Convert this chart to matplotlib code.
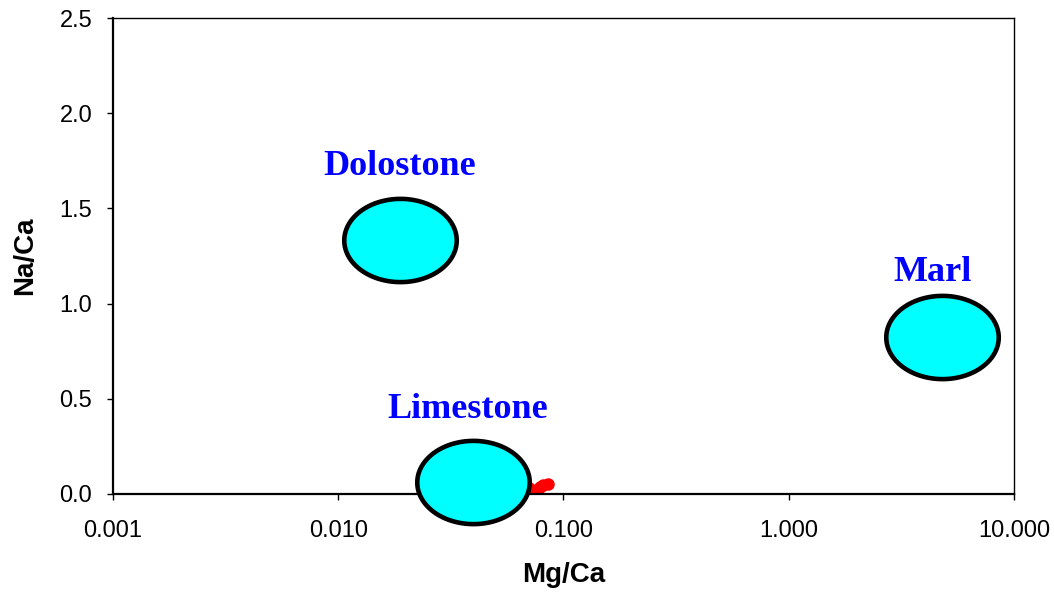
import numpy as np
import matplotlib.pyplot as plt
from matplotlib.path import Path

# rock-type fields (Mg/Ca, Na/Ca)
rock_names = ['Dolostone', 'Limestone', 'Marl']
rock_mgca = [0.0188, 0.0396, 4.79]
rock_naca = [1.334, 0.063, 0.825]
label_mgca = [0.0188, 0.0377, 4.33]
label_naca = [1.722, 0.446, 1.166]

# water samples
sample_mgca = [0.0853, 0.0786, 0.0752, 0.0700, 0.0810]
sample_naca = [0.053, 0.037, 0.020, 0.030, 0.045]

xticks = [0.001, 0.01, 0.1, 1, 10]
xticklabels = ['0.001', '0.010', '0.100', '1.000', '10.000']
yticks = [0.0, 0.5, 1.0, 1.5, 2.0, 2.5]

# ellipse marker
t = np.linspace(0, 2 * np.pi, 100)
ell = Path(np.column_stack([np.cos(t), 0.74 * np.sin(t)]), closed=True)

fig = plt.figure(figsize=(10.54, 6.03), dpi=100)
ax = fig.add_axes([0.1072, 0.1808, 0.8548, 0.7892])

ax.plot(sample_mgca, sample_naca, 'o', color='red', markersize=8, zorder=2)
ax.plot(rock_mgca, rock_naca, linestyle='none', marker=ell, markersize=81,
        markerfacecolor='cyan', markeredgecolor='black', markeredgewidth=3.3,
        clip_on=False, zorder=3)

for n, x, y in zip(rock_names, label_mgca, label_naca):
    ax.text(x, y, n, color='blue', fontsize=26, fontweight='bold',
            family='Liberation Serif', ha='center', va='center')

ax.set_xscale('log')
ax.set_xlim(0.001, 10)
ax.set_ylim(0, 2.5)
ax.set_xticks(xticks)
ax.set_xticklabels(xticklabels)
ax.minorticks_off()
ax.set_yticks(yticks)
ax.set_yticklabels([f'{v:.1f}' for v in yticks])
ax.tick_params(labelsize=17, length=4, width=1, direction='out')
for lab in ax.get_xticklabels() + ax.get_yticklabels():
    lab.set_family('Liberation Sans')
ax.tick_params(axis='x', pad=15)
ax.tick_params(axis='y', pad=11)

ax.set_xlabel('Mg/Ca', fontsize=20, fontweight='bold', family='Liberation Sans', labelpad=14)
ax.set_ylabel('Na/Ca', fontsize=20, fontweight='bold', family='Liberation Sans', labelpad=15)

ax.spines['bottom'].set_linewidth(1.6)
ax.spines['left'].set_linewidth(1.6)
ax.spines['top'].set_linewidth(1)
ax.spines['right'].set_linewidth(1)

fig.savefig('out.png', dpi=100)
